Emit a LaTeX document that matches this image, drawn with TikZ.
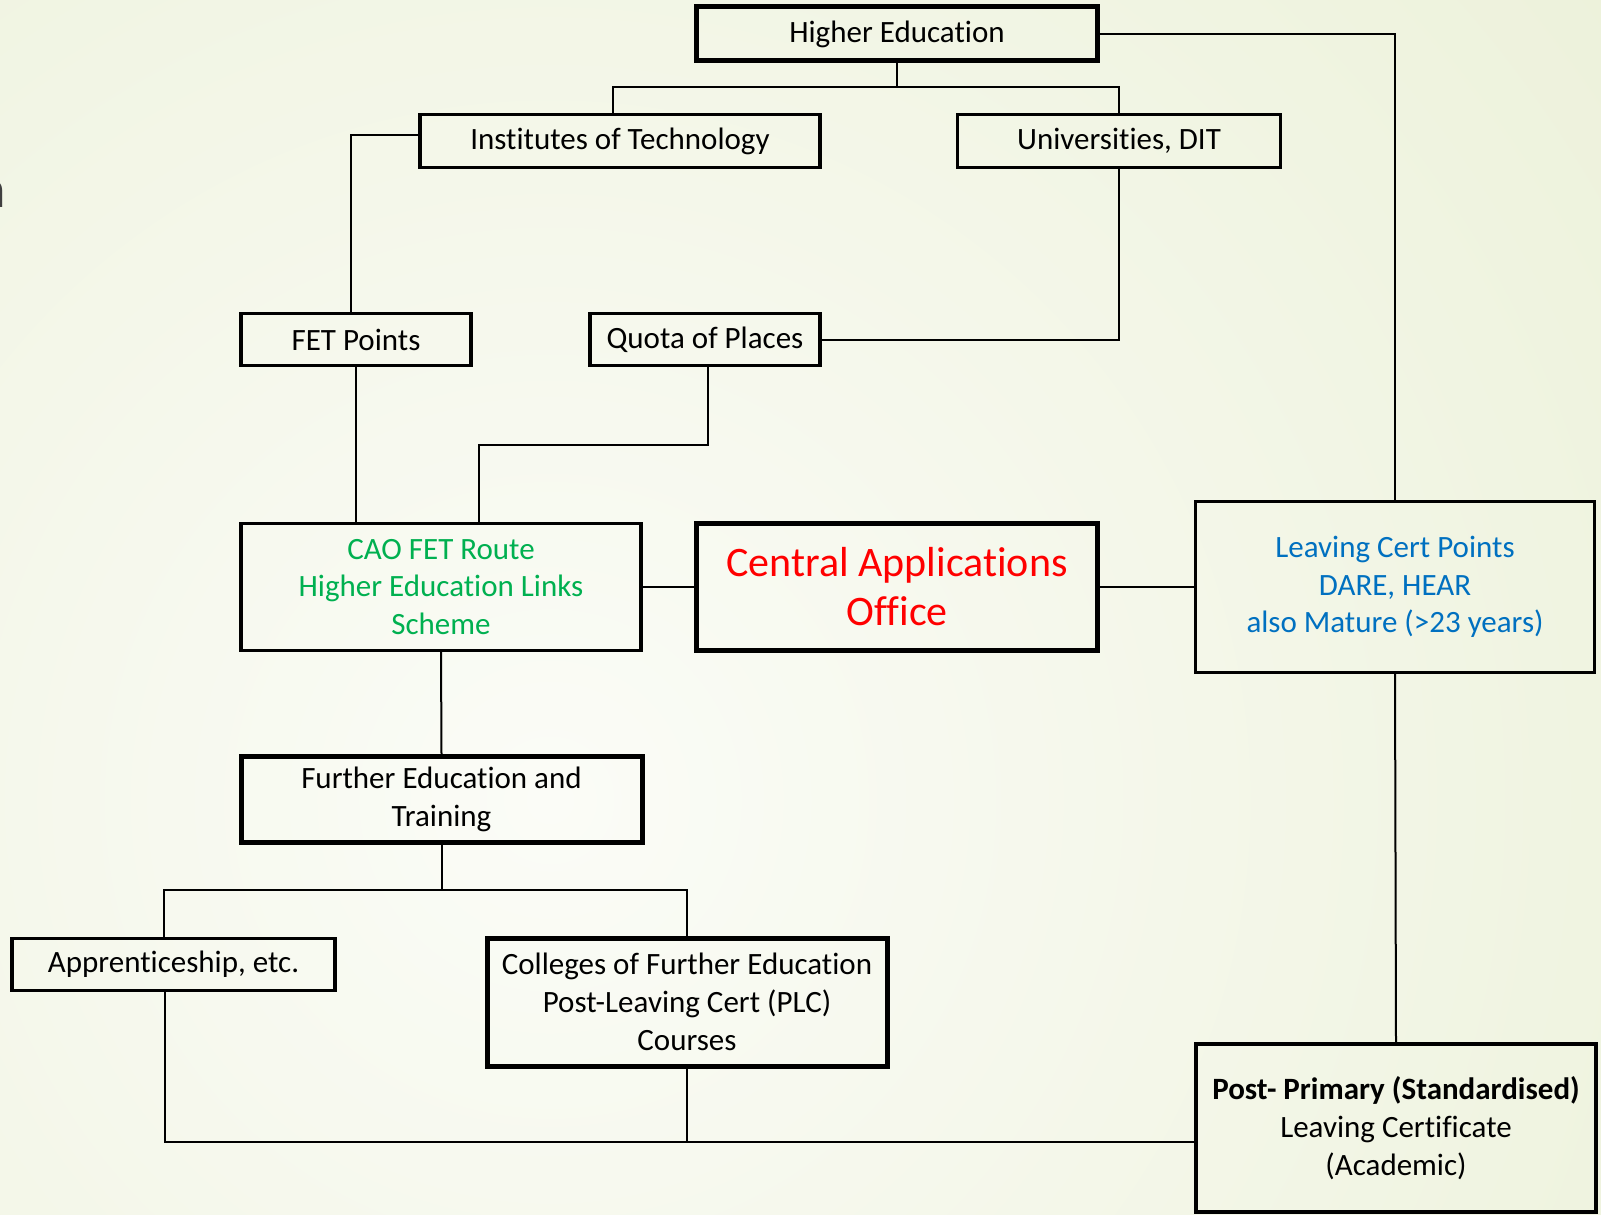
\documentclass[tikz,border=0pt]{standalone}
\usepackage{fontspec}
\setmainfont{Carlito}[Ligatures=NoCommon]
\definecolor{caored}{HTML}{FF0000}
\definecolor{caogreen}{HTML}{00B050}
\definecolor{caoblue}{HTML}{0070C0}
\definecolor{bgin}{HTML}{FBFCF7}
\definecolor{bgout}{HTML}{DDE6BC}
\begin{document}
\begin{tikzpicture}[x=1pt,y=-1pt,
  box/.style={draw=black, line width=3.2pt, inner sep=0pt, align=center,
              font=\fontsize{31}{37.8}\selectfont, text=black},
  bigbox/.style={box, line width=5pt},
  link/.style={draw=black, line width=2pt}]
\useasboundingbox (0,0) rectangle (1601,1215);
\begin{scope}
  \clip (0,0) rectangle (1601,1215);
  \shade[inner color=bgin, outer color=bgout] (550,800) circle (2800pt);
  \node[anchor=base east, inner sep=0pt, text=black!75,
        font=\fontsize{54}{60}\selectfont\bfseries] (frag) at (6,207) {n};
\end{scope}

% nodes
\node[bigbox, minimum width=401pt, minimum height=54pt] (he) at (897,34) {Higher Education};
\node[box, minimum width=400pt, minimum height=53pt] (iot) at (620,141) {Institutes of Technology};
\node[box, minimum width=323pt, minimum height=53pt] (univ) at (1119,141) {Universities, DIT};
\node[box, minimum width=230pt, minimum height=52pt] (fetp) at (356,339.5) {FET Points};
\node[box, minimum width=230pt, minimum height=52pt] (quota) at (705,339.5) {Quota of Places};
\node[box, minimum width=400pt, minimum height=127pt, text=caogreen] (caofet) at (441,587)
  {CAO FET Route\\Higher Education Links\\Scheme};
\node[bigbox, minimum width=401pt, minimum height=127pt, text=caored,
      font=\fontsize{42}{49}\selectfont] (cao) at (897,587) {Central Applications\\Office};
\node[box, minimum width=399pt, minimum height=171pt, text=caoblue] (lc) at (1395,587)
  {Leaving Cert Points\\DARE, HEAR\\also Mature (>23 years)};
\node[bigbox, minimum width=401pt, minimum height=86pt] (fet) at (441.5,799.5)
  {Further Education and\\Training};
\node[box, minimum width=323pt, minimum height=52pt] (app) at (173.5,964.5) {Apprenticeship, etc.};
\node[bigbox, minimum width=400pt, minimum height=128pt] (col) at (687,1002)
  {Colleges of Further Education\\Post-Leaving Cert (PLC)\\Courses};
\node[box, minimum width=400pt, minimum height=168pt] (pp) at (1396,1128)
  {{\bfseries Post- Primary (Standardised)}\\Leaving Certificate\\(Academic)};

% helper coordinates
\coordinate (hebar) at (0,87);
\coordinate (qb) at (479,445);
\coordinate (fb) at (0,890);
\coordinate (bb) at (0,1142);

% connectors
\draw[link] (he.south) -- (he.south |- hebar);
\draw[link] ([xshift=-7pt]iot.north) |- (hebar -| univ.north) -- (univ.north);
\draw[link] (he.east) -| (lc.north);
\draw[link] ([yshift=6pt]iot.west) -| ([xshift=-5pt]fetp.north);
\draw[link] (univ.south) |- (quota.east);
\draw[link] (fetp.south) -- (fetp.south |- caofet.north);
\draw[link] ([xshift=3pt]quota.south) |- (qb) -- (qb |- caofet.north);
\draw[link] (caofet.east) -- (cao.west);
\draw[link] (cao.east) -- (lc.west);
\draw[link] (caofet.south) -- (fet.north);
\draw[link] (fet.south) -- (fet.south |- fb);
\draw[link] ([xshift=-10pt]app.north) |- (fb -| col.north) -- (col.north);
\draw[link] ([xshift=-9pt]app.south) |- (bb -| pp.west);
\draw[link] (col.south) -- (col.south |- bb);
\draw[link] (lc.south) -- (pp.north);
\end{tikzpicture}
\end{document}
